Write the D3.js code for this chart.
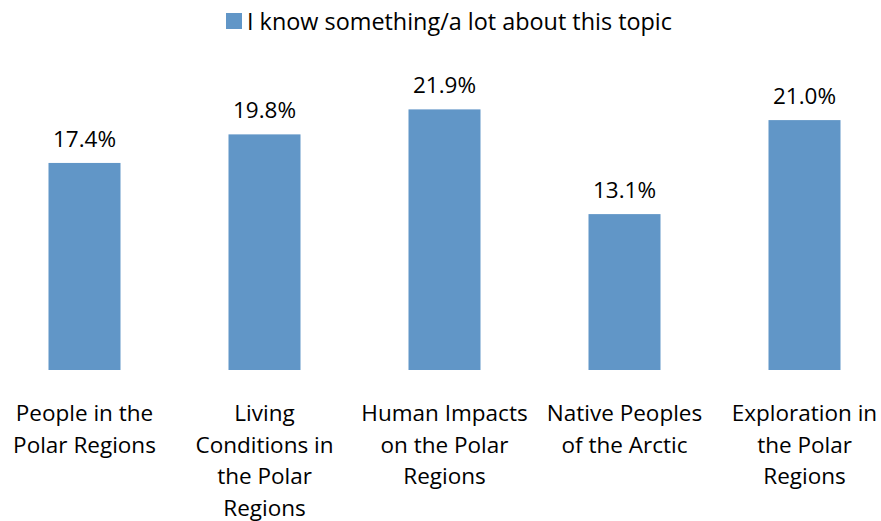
<!DOCTYPE html>
<html>
<head>
<meta charset="utf-8">
<script src="https://cdn.jsdelivr.net/npm/d3@7"></script>
<style>
  html, body { margin: 0; padding: 0; background: #fff; }
  svg { display: block; }
  text { font-family: "Open Sans", Lato, sans-serif; fill: #000; }
</style>
</head>
<body>
<svg id="chart" width="881" height="521"></svg>
<script>
// Survey topics and share answering "something/a lot"
const categories = [
  "People in the Polar Regions",
  "Living Conditions in the Polar Regions",
  "Human Impacts on the Polar Regions",
  "Native Peoples of the Arctic",
  "Exploration in the Polar Regions"
];
const categoryLines = [
  ["People in the", "Polar Regions"],
  ["Living", "Conditions in", "the Polar", "Regions"],
  ["Human Impacts", "on the Polar", "Regions"],
  ["Native Peoples", "of the Arctic"],
  ["Exploration in", "the Polar", "Regions"]
];
const values = [17.4, 19.8, 21.9, 13.1, 21.0];
const seriesName = "I know something/a lot about this topic";

const barColor = "#6196C7";
const fontSize = 22.5;
const svg = d3.select("#chart");

const x = d3.scaleBand()
  .domain(categories)
  .range([12.5, 876.5])
  .paddingInner(0.6)
  .paddingOuter(0.2);

const y = d3.scaleLinear()
  .domain([0, 25])
  .range([370, 72.5]);

// Bars
svg.append("g")
  .selectAll("rect")
  .data(values)
  .join("rect")
  .attr("x", (d, i) => x(categories[i]))
  .attr("width", x.bandwidth())
  .attr("y", d => y(d))
  .attr("height", d => y(0) - y(d))
  .attr("fill", barColor);

// Value labels
svg.append("g")
  .selectAll("text")
  .data(values)
  .join("text")
  .attr("x", (d, i) => x(categories[i]) + x.bandwidth() / 2)
  .attr("y", d => y(d) - 16)
  .attr("text-anchor", "middle")
  .attr("font-size", fontSize)
  .text(d => d.toFixed(1) + "%");

// Category labels (wrapped)
const labels = svg.append("g")
  .selectAll("text")
  .data(categories)
  .join("text")
  .attr("x", d => x(d) + x.bandwidth() / 2)
  .attr("y", 421)
  .attr("text-anchor", "middle")
  .attr("font-size", fontSize);
labels.each(function (d, i) {
  d3.select(this).selectAll("tspan")
    .data(categoryLines[i])
    .join("tspan")
    .attr("x", x(d) + x.bandwidth() / 2)
    .attr("dy", (l, j) => j === 0 ? 0 : 31.5)
    .text(l => l);
});

// Legend
const legend = svg.append("g");
legend.append("rect")
  .attr("x", 226).attr("y", 13)
  .attr("width", 16).attr("height", 16)
  .attr("fill", barColor);
legend.append("text")
  .attr("x", 247).attr("y", 30)
  .attr("font-size", 23.4)
  .text(seriesName);
</script>
</body>
</html>
